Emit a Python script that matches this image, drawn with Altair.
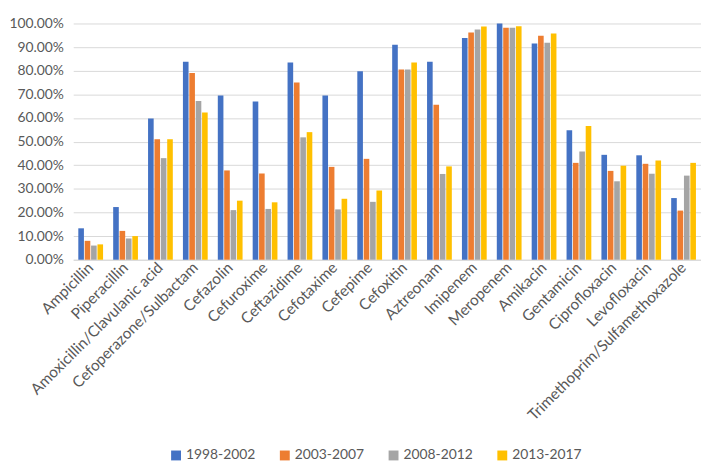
import altair as alt
import pandas as pd

drugs = ["Ampicillin", "Piperacillin", "Amoxicillin/Clavulanic acid", "Cefoperazone/Sulbactam",
         "Cefazolin", "Cefuroxime", "Ceftazidime", "Cefotaxime", "Cefepime", "Cefoxitin",
         "Aztreonam", "Imipenem", "Meropenem", "Amikacin", "Gentamicin", "Ciprofloxacin",
         "Levofloxacin", "Trimethoprim/Sulfamethoxazole"]
periods = ["1998-2002", "2003-2007", "2008-2012", "2013-2017"]

p1998_2002 = [13.3, 22.3, 59.8, 83.8, 69.5, 67.0, 83.5, 69.5, 79.8, 91.0, 83.8, 93.8, 100.0, 91.5, 54.8, 44.4, 44.2, 26.1]
p2003_2007 = [8.0, 12.2, 51.0, 79.0, 37.8, 36.5, 75.0, 39.3, 42.7, 80.5, 65.6, 96.2, 98.2, 94.8, 41.0, 37.6, 40.6, 20.8]
p2008_2012 = [6.0, 9.0, 43.0, 67.2, 21.0, 21.5, 51.8, 21.3, 24.5, 80.5, 36.3, 97.4, 98.2, 91.8, 45.8, 33.2, 36.4, 35.6]
p2013_2017 = [6.5, 10.0, 51.0, 62.3, 25.0, 24.3, 54.0, 25.8, 29.3, 83.5, 39.5, 98.7, 98.8, 95.7, 56.6, 39.8, 42.0, 41.0]

colors = ["#4472C4", "#ED7D31", "#A5A5A5", "#FFC000"]

rows = []
for period, vals in zip(periods, [p1998_2002, p2003_2007, p2008_2012, p2013_2017]):
    for d, v in zip(drugs, vals):
        rows.append({"drug": d, "period": period, "value": v / 100.0})
df = pd.DataFrame(rows)

FONT = "Lato"
GREY = "#595959"

chart = alt.Chart(df).mark_bar().encode(
    x=alt.X("drug:N", sort=drugs, title=None,
            scale=alt.Scale(paddingInner=0.29, paddingOuter=0.145),
            axis=alt.Axis(labelAngle=-45, labelAlign="right", labelBaseline="middle",
                          labelFontSize=15.5, labelColor=GREY, labelFont=FONT,
                          ticks=False, domain=True, domainColor="#d9d9d9", labelPadding=5,
                          labelOverlap=False, labelLimit=400)),
    xOffset=alt.XOffset("period:N", sort=periods, scale=alt.Scale(paddingInner=0.12)),
    y=alt.Y("value:Q", title=None,
            scale=alt.Scale(domain=[0, 1], nice=False),
            axis=alt.Axis(format=".2%", values=[i / 10 for i in range(11)],
                          labelFontSize=14, labelColor=GREY, labelFont=FONT,
                          ticks=False, domain=False, gridColor="#d9d9d9", labelPadding=10)),
    color=alt.Color("period:N", sort=periods, title=None,
                    scale=alt.Scale(domain=periods, range=colors),
                    legend=alt.Legend(orient="none", legendX=97, legendY=430, direction="horizontal",
                                      symbolType="square", symbolSize=100, symbolStrokeWidth=0,
                                      labelFontSize=14, labelColor=GREY, labelFont=FONT,
                                      columnPadding=22, labelOffset=3)),
).properties(
    width=635, height=239, padding={"top": 6, "left": 0, "right": 0, "bottom": 0}
).configure_view(stroke=None)

chart.save("out.html", embed_options={"renderer": "svg", "actions": False})
